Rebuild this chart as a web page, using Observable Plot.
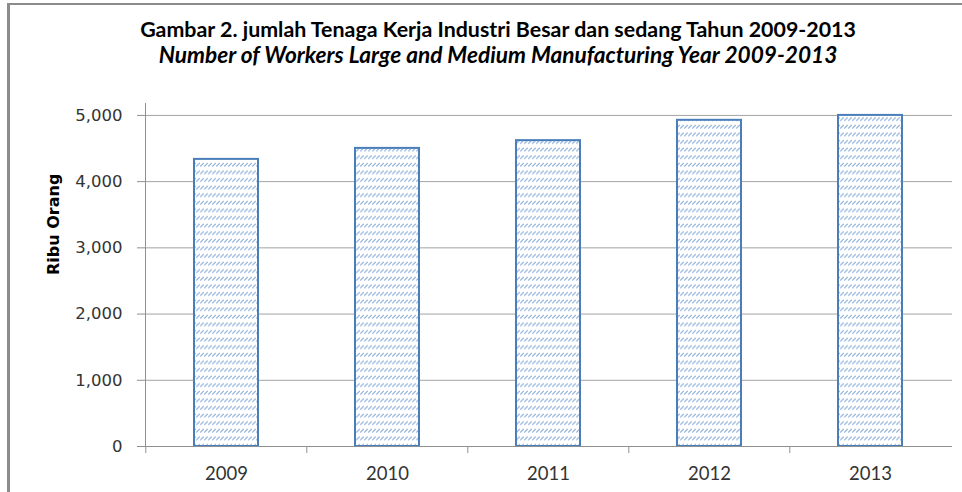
<!DOCTYPE html>
<html><head><meta charset="utf-8">
<script src="https://cdn.jsdelivr.net/npm/d3@7"></script>
<script src="https://cdn.jsdelivr.net/npm/@observablehq/plot@0.6"></script>
<style>
body{margin:0;background:#fff;width:962px;height:492px;overflow:hidden;position:relative;font-family:Lato,sans-serif}
#frame{position:absolute;left:7px;top:3px;width:960px;height:500px;border-left:3px solid #8c8c8c;border-top:2px solid #8c8c8c;z-index:5;pointer-events:none}
.t{position:absolute;left:0;width:996px;text-align:center;color:#000;white-space:nowrap;line-height:1}
#t1{top:19px;font-weight:bold}
#t2{top:44px;font-weight:bold;font-style:italic}
#chart{position:absolute;left:0;top:70px}
</style></head><body>
<div id="t1" class="t"></div>
<div id="t2" class="t"></div>
<div id="chart"></div>
<div id="frame"></div>
<script>
const titleLine1 = "Gambar 2. jumlah Tenaga Kerja Industri Besar dan sedang Tahun 2009-2013";
const titleLine2 = "Number of Workers Large and Medium Manufacturing Year 2009-2013";
const yLabel = "Ribu Orang";
const years = ["2009", "2010", "2011", "2012", "2013"];
const workers = [4336, 4502, 4619, 4926, 5000];
const yTicks = [0, 1000, 2000, 3000, 4000, 5000];
const yMax = 5180;

const ctx = document.createElement("canvas").getContext("2d");
function fit(id, text, target, style) {
  ctx.font = style + " 20px Lato";
  const w = ctx.measureText(text).width;
  const el = document.getElementById(id);
  el.textContent = text;
  el.style.fontSize = (20 * target / w).toFixed(2) + "px";
}
fit("t1", titleLine1, 718, "bold");
fit("t2", titleLine2, 681, "italic bold");

const W = 962, H = 422, mL = 145, mR = 10, mT = 33, mB = 46;
const step = (W - mL - mR) / years.length;
const data = years.map((y, i) => ({year: y, value: workers[i]}));
const axisGrey = "#909090";

const chart = Plot.plot({
  width: W, height: H,
  marginLeft: mL, marginRight: mR, marginTop: mT, marginBottom: mB,
  style: {fontFamily: "'DejaVu Sans', sans-serif", fontSize: "16px", color: "#333", background: "transparent"},
  x: {domain: years, paddingInner: 0.6, paddingOuter: 0.3, axis: null},
  y: {domain: [0, yMax], axis: null},
  marks: [
    Plot.gridY(yTicks.slice(1), {stroke: "#a3a3a3", strokeOpacity: 1, strokeWidth: 1}),
    Plot.barY(data, {x: "year", y: "value", fill: "url(#hatch)", stroke: "#4a7ebb", strokeWidth: 2}),
    Plot.ruleY([0], {stroke: axisGrey}),
    Plot.frame({anchor: "left", stroke: axisGrey}),
    Plot.axisY(yTicks, {label: null, tickSize: 8, tickPadding: 15, tickFormat: d3.format(","), stroke: axisGrey, fontSize: 16.5, fontFamily: "'DejaVu Sans', sans-serif"}),
    Plot.ruleX(years, {x: d => d, dx: -step / 2, insetTop: H - mT - mB, insetBottom: -7, stroke: axisGrey}),
    Plot.text(years, {x: d => d, frameAnchor: "bottom", dy: 28, lineAnchor: "middle", fontSize: 18.5, fontFamily: "Lato, sans-serif", fill: "#333"}),
    Plot.text([yLabel], {frameAnchor: "left", dx: -92, rotate: -90, fontWeight: "bold", fontSize: 16, fontFamily: "'DejaVu Sans', sans-serif", fill: "#000"})
  ]
});
d3.select(chart).insert("defs", ":first-child").html(
  '<pattern id="hatch" patternUnits="userSpaceOnUse" width="4" height="7.6">' +
  '<rect width="4" height="7.6" fill="#fff"/>' +
  '<path d="M0.3,5.3L3.7,1.9" stroke="#8fb0dc" stroke-width="1.1"/></pattern>'
);
document.getElementById("chart").appendChild(chart);
</script>
</body></html>
